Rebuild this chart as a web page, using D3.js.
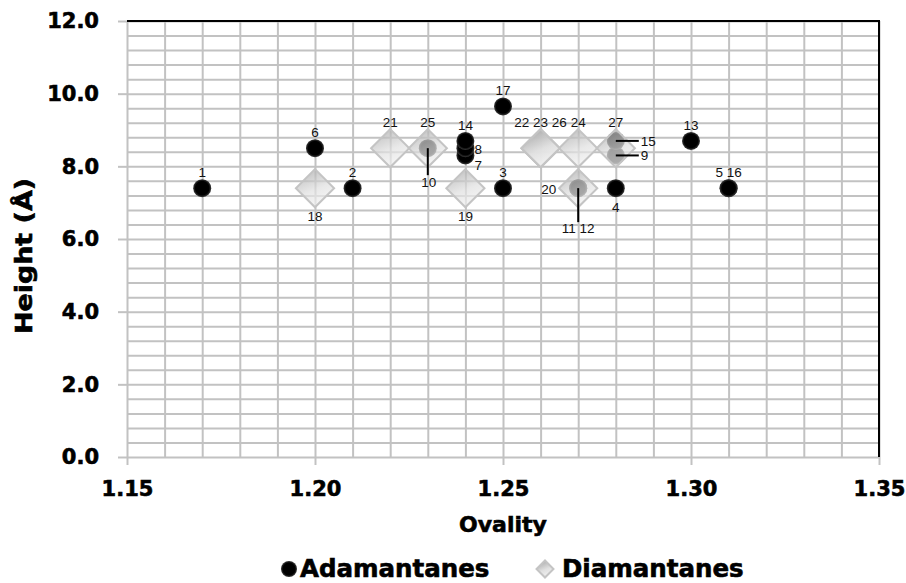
<!DOCTYPE html>
<html>
<head>
<meta charset="utf-8">
<script src="https://cdn.jsdelivr.net/npm/d3@7"></script>
<style>
  body { margin: 0; background: #fff; }
  svg { display: block; }
</style>
</head>
<body>
<div id="chart-holder"></div>
<script>
// ****DATA****
// Adamantanes (compounds 1-17)
const adaIds     = ["1","2","3","4","5","6","7","8","9","10","11","12","13","14","15","16","17"];
const adaOvality = [1.17, 1.21, 1.25, 1.28, 1.31, 1.20, 1.24, 1.24, 1.28, 1.23, 1.27, 1.27, 1.30, 1.24, 1.28, 1.31, 1.25];
const adaHeight  = [7.4, 7.4, 7.4, 7.4, 7.4, 8.5, 8.3, 8.5, 8.3, 8.5, 7.4, 7.4, 8.7, 8.7, 8.7, 7.4, 9.65];
// Diamantanes (compounds 18-27)
const diaIds     = ["18","19","20","21","22","23","24","25","26","27"];
const diaOvality = [1.20, 1.24, 1.27, 1.22, 1.26, 1.26, 1.27, 1.23, 1.26, 1.28];
const diaHeight  = [7.4, 7.4, 7.4, 8.5, 8.5, 8.5, 8.5, 8.5, 8.5, 8.5];
// Axis ticks
const xTicks = [1.15, 1.20, 1.25, 1.30, 1.35];
const yTicks = [0, 2, 4, 6, 8, 10, 12];

const adamantanes = adaIds.map((id, i) => ({id: id, x: adaOvality[i], y: adaHeight[i]}));
const diamantanes = diaIds.map((id, i) => ({id: id, x: diaOvality[i], y: diaHeight[i]}));

// point annotations: text, anchor point (series + id), placement
const annotations = [
  {text: "1", s: "a", id: "1", place: "top"},
  {text: "2", s: "a", id: "2", place: "top"},
  {text: "3", s: "a", id: "3", place: "top"},
  {text: "4", s: "a", id: "4", place: "bottom"},
  {text: "5 16", s: "a", id: "5", place: "top"},
  {text: "6", s: "a", id: "6", place: "top"},
  {text: "7", s: "a", id: "7", place: "rightLow"},
  {text: "8", s: "a", id: "8", place: "right"},
  {text: "14", s: "a", id: "14", place: "top"},
  {text: "13", s: "a", id: "13", place: "top"},
  {text: "17", s: "a", id: "17", place: "top"},
  {text: "10", s: "a", id: "10", place: "leaderDown"},
  {text: "11 12", s: "a", id: "11", place: "leaderDownLong"},
  {text: "15", s: "a", id: "15", place: "leaderRight"},
  {text: "9", s: "a", id: "9", place: "leaderRight"},
  {text: "18", s: "d", id: "18", place: "bottomD"},
  {text: "19", s: "d", id: "19", place: "bottomD"},
  {text: "20", s: "d", id: "20", place: "leftD"},
  {text: "21", s: "d", id: "21", place: "topD"},
  {text: "25", s: "d", id: "25", place: "topD"},
  {text: "22 23 26", s: "d", id: "22", place: "topD"},
  {text: "24", s: "d", id: "24", place: "topD"},
  {text: "27", s: "d", id: "27", place: "topD"}
];

// ****SVG CANVAS****
const width = 906;
const height = 583;
const plotLeft = 127, plotRight = 879, plotTop = 21, plotBottom = 457;

const svg = d3.select('#chart-holder')
  .append('svg')
  .attr('width', width)
  .attr('height', height);

const defs = svg.append('defs');
const grad = defs.append('linearGradient')
  .attr('id', 'diaFill')
  .attr('x1', '0%').attr('y1', '30%')
  .attr('x2', '100%').attr('y2', '70%');
grad.append('stop').attr('offset', '0%').attr('stop-color', '#b8b8b8');
grad.append('stop').attr('offset', '55%').attr('stop-color', '#e0e0e0');
grad.append('stop').attr('offset', '100%').attr('stop-color', '#eeeeee');

const circGrad = defs.append('radialGradient').attr('id', 'adaFill');
circGrad.append('stop').attr('offset', '0%').attr('stop-color', '#000');
circGrad.append('stop').attr('offset', '75%').attr('stop-color', '#000');
circGrad.append('stop').attr('offset', '100%').attr('stop-color', '#3a3a3a');

// ****SCALES****
const xScale = d3.scaleLinear().domain([1.15, 1.35]).range([plotLeft, plotRight]);
const yScale = d3.scaleLinear().domain([0, 12]).range([plotBottom, plotTop]);

// ****GRID****
const gridColor = '#c2c2c2';
const grid = svg.append('g').attr('id', 'grid');
grid.append('g')
  .attr('transform', `translate(0, ${plotBottom})`)
  .call(d3.axisBottom(xScale).tickValues(d3.range(115, 136).map(v => v / 100)).tickSize(-(plotBottom - plotTop)).tickFormat(''))
  .call(g => g.select('.domain').remove())
  .selectAll('line').attr('stroke', gridColor).attr('stroke-width', 2);
grid.append('g')
  .attr('transform', `translate(${plotLeft}, 0)`)
  .call(d3.axisLeft(yScale).tickValues(d3.range(0, 31).map(v => v * 0.4)).tickSize(-(plotRight - plotLeft)).tickFormat(''))
  .call(g => g.select('.domain').remove())
  .selectAll('line').attr('stroke', gridColor).attr('stroke-width', 2);

// top and right border black
svg.append('path')
  .attr('d', `M${plotLeft},${plotTop}H${plotRight}V${plotBottom}`)
  .attr('fill', 'none')
  .attr('stroke', '#000')
  .attr('stroke-width', 2);

// ****AXES****
const tickFont = "'DejaVu Sans', sans-serif";
// heavy bold look: bold + thin stroke
function heavy(sel, size) {
  sel.style('font-family', tickFont)
    .style('font-weight', 'bold')
    .style('font-size', size)
    .attr('fill', '#000')
    .attr('stroke', '#000')
    .attr('stroke-width', 0.6);
}
const yAxis = svg.append('g')
  .attr('transform', `translate(${plotLeft}, 0)`)
  .call(d3.axisLeft(yScale).tickValues(yTicks).tickSize(9).tickPadding(19).tickFormat(d3.format('.1f')));
yAxis.select('.domain').remove();
yAxis.selectAll('line').attr('stroke', gridColor).attr('stroke-width', 2);
yAxis.selectAll('text').call(heavy, '21px');

const xAxis = svg.append('g')
  .attr('transform', `translate(0, ${plotBottom})`)
  .call(d3.axisBottom(xScale).tickValues(xTicks).tickSize(8).tickPadding(16).tickFormat(d3.format('.2f')));
xAxis.select('.domain').remove();
xAxis.selectAll('line').attr('stroke', gridColor).attr('stroke-width', 2);
xAxis.selectAll('text').call(heavy, '21px');

// axis titles
svg.append('text')
  .attr('x', (plotLeft + plotRight) / 2)
  .attr('y', 532)
  .attr('text-anchor', 'middle')
  .call(heavy, '22px')
  .text('Ovality');
svg.append('text')
  .attr('transform', 'translate(32, 256) rotate(-90)')
  .attr('text-anchor', 'middle')
  .attr('textLength', 156)
  .attr('lengthAdjust', 'spacingAndGlyphs')
  .call(heavy, '23px')
  .text('Height (Å)');

// ****PLOT****
const diamond = d3.symbol().type(d3.symbolSquare).size(27 * 27);

svg.append('g').attr('id', 'adamantanes')
  .selectAll('circle')
  .data(adamantanes)
  .enter()
  .append('circle')
  .attr('cx', d => xScale(d.x))
  .attr('cy', d => yScale(d.y))
  .attr('r', 9)
  .attr('fill', 'url(#adaFill)');

svg.append('g').attr('id', 'diamantanes')
  .selectAll('path')
  .data(diamantanes)
  .enter()
  .append('path')
  .attr('d', diamond)
  .attr('transform', d => `translate(${xScale(d.x)}, ${yScale(d.y)}) rotate(45)`)
  .attr('fill', 'url(#diaFill)')
  .attr('fill-opacity', 0.72)
  .attr('stroke', '#c4c4c4')
  .attr('stroke-width', 2);

// ****LABELS****
const placement = {
  top:            {dx: 0,   dy: -16, anchor: 'middle'},
  bottom:         {dx: 0,   dy: 19,  anchor: 'middle'},
  right:          {dx: 9,   dy: 1,   anchor: 'start'},
  rightLow:       {dx: 9,   dy: 10,  anchor: 'start'},
  topD:           {dx: 0,   dy: -26, anchor: 'middle'},
  bottomD:        {dx: 0,   dy: 28,  anchor: 'middle'},
  leftD:          {dx: -22, dy: 1,   anchor: 'end'},
  leaderDown:     {dx: 1,   dy: 34,  anchor: 'middle', lx: 0,  ly: 27},
  leaderDownLong: {dx: 0,   dy: 40,  anchor: 'middle', lx: 0,  ly: 34},
  leaderRight:    {dx: 25,  dy: 0,   anchor: 'start',  lx: 23, ly: 0}
};
const lookup = {a: adamantanes, d: diamantanes};
const labelGroup = svg.append('g').attr('id', 'labels');
annotations.forEach(a => {
  const p = lookup[a.s].find(d => d.id === a.id);
  const cx = xScale(p.x), cy = yScale(p.y);
  const pl = placement[a.place];
  if (pl.lx !== undefined) {
    labelGroup.append('line')
      .attr('x1', cx).attr('y1', cy)
      .attr('x2', cx + pl.lx).attr('y2', cy + pl.ly)
      .attr('stroke', '#000').attr('stroke-width', 2);
  }
  labelGroup.append('text')
    .attr('x', cx + pl.dx)
    .attr('y', cy + pl.dy)
    .attr('dy', '0.35em')
    .attr('text-anchor', pl.anchor)
    .style('font-family', "'Liberation Sans', Arial, sans-serif")
    .style('font-size', '13.5px')
    .attr('fill', '#111')
    .text(a.text);
});

// ****LEGEND****
const legend = svg.append('g').attr('id', 'legend');
legend.append('circle').attr('cx', 289).attr('cy', 569).attr('r', 8).attr('fill', 'url(#adaFill)');
legend.append('text').attr('x', 300).attr('y', 577)
  .call(heavy, '24.5px')
  .text('Adamantanes');
legend.append('path')
  .attr('d', d3.symbol().type(d3.symbolSquare).size(12 * 12))
  .attr('transform', 'translate(545, 569) rotate(45)')
  .attr('fill', 'url(#diaFill)')
  .attr('stroke', '#c4c4c4')
  .attr('stroke-width', 2);
legend.append('text').attr('x', 562).attr('y', 577)
  .call(heavy, '24.5px')
  .text('Diamantanes');
</script>
</body>
</html>
